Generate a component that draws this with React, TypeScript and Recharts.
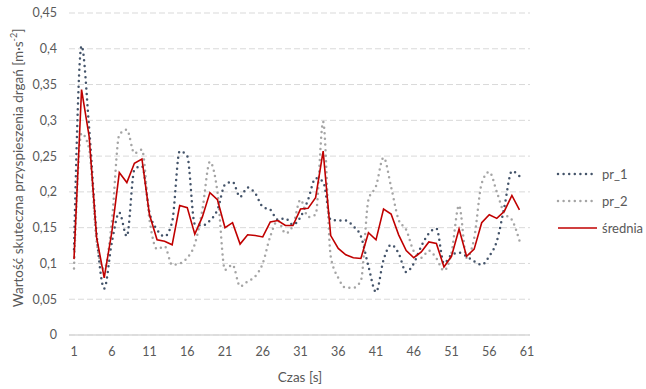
import React from 'react'
import { LineChart, Line, XAxis, YAxis, CartesianGrid } from 'recharts'

const seconds = [
  1, 2, 3, 4, 5, 6, 7, 8, 9, 10, 11, 12, 13, 14, 15, 16, 17, 18, 19, 20,
  21, 22, 23, 24, 25, 26, 27, 28, 29, 30, 31, 32, 33, 34, 35, 36, 37, 38, 39, 40,
  41, 42, 43, 44, 45, 46, 47, 48, 49, 50, 51, 52, 53, 54, 55, 56, 57, 58, 59, 60,
]

const pr1 = [
  0.12, 0.404, 0.29, 0.14, 0.065, 0.129, 0.171, 0.138, 0.231, 0.236,
  0.171, 0.147, 0.138, 0.158, 0.257, 0.25, 0.155, 0.153, 0.16, 0.175,
  0.21, 0.214, 0.193, 0.206, 0.198, 0.179, 0.175, 0.161, 0.163, 0.154,
  0.165, 0.189, 0.219, 0.214, 0.161, 0.16, 0.16, 0.152, 0.138, 0.096,
  0.06, 0.105, 0.126, 0.114, 0.088, 0.1, 0.124, 0.142, 0.149, 0.1,
  0.112, 0.115, 0.11, 0.103, 0.098, 0.11, 0.131, 0.179, 0.229, 0.222,
]

const pr2 = [
  0.093, 0.282, 0.26, 0.13, 0.092, 0.157, 0.28, 0.287, 0.254, 0.259,
  0.161, 0.12, 0.124, 0.098, 0.1, 0.108, 0.127, 0.175, 0.242, 0.2,
  0.091, 0.098, 0.068, 0.075, 0.082, 0.1, 0.138, 0.16, 0.142, 0.153,
  0.189, 0.165, 0.168, 0.298, 0.11, 0.08, 0.066, 0.066, 0.076, 0.189,
  0.208, 0.248, 0.207, 0.161, 0.147, 0.117, 0.108, 0.118, 0.107, 0.09,
  0.115, 0.181, 0.108, 0.135, 0.212, 0.228, 0.2, 0.17, 0.161, 0.132,
]

const srednia = [
  0.106, 0.343, 0.278, 0.136, 0.08, 0.143, 0.227, 0.213, 0.24, 0.246,
  0.168, 0.133, 0.131, 0.126, 0.181, 0.178, 0.141, 0.165, 0.199, 0.189,
  0.15, 0.157, 0.127, 0.14, 0.139, 0.137, 0.158, 0.16, 0.153, 0.153,
  0.176, 0.177, 0.192, 0.257, 0.139, 0.121, 0.112, 0.108, 0.107, 0.143,
  0.133, 0.176, 0.169, 0.14, 0.118, 0.108, 0.116, 0.13, 0.128, 0.095,
  0.11, 0.148, 0.11, 0.12, 0.157, 0.168, 0.163, 0.173, 0.195, 0.175,
]

const xTicks = [1, 6, 11, 16, 21, 26, 31, 36, 41, 46, 51, 56, 61]
const yTicks = [0, 0.05, 0.1, 0.15, 0.2, 0.25, 0.3, 0.35, 0.4, 0.45]

const data = seconds.map((t, i) => ({ t, pr1: pr1[i], pr2: pr2[i], srednia: srednia[i] }))

const FONT = 'Lato, "Liberation Sans", sans-serif'
const TEXT = '#595959'
const C_PR1 = '#44546A'
const C_PR2 = '#A5A5A5'
const C_AVG = '#C00000'

function LegendRow({ top, color, dotted, label }: { top: number; color: string; dotted: boolean; label: string }) {
  return (
    <div style={{ position: 'absolute', left: 555, top: top - 9, height: 18, display: 'flex', alignItems: 'center' }}>
      <svg width={44} height={18}>
        <line
          x1={3}
          y1={9}
          x2={42}
          y2={9}
          stroke={color}
          strokeWidth={dotted ? 2.5 : 1.6}
          strokeDasharray={dotted ? '0 5.6' : undefined}
          strokeLinecap={dotted ? 'round' : 'butt'}
        />
      </svg>
      <span style={{ fontSize: 13, color: TEXT, marginLeft: 3 }}>{label}</span>
    </div>
  )
}

export default function App() {
  return (
    <div style={{ position: 'absolute', left: 0, top: 0, width: 646, height: 389, background: '#fff', fontFamily: FONT }}>
      <LineChart width={646} height={389} data={data} margin={{ top: 13, right: 116, bottom: 24, left: 0 }}>
        <CartesianGrid vertical={false} stroke="#D9D9D9" strokeDasharray="6 3" />
        <XAxis
          dataKey="t"
          type="number"
          domain={[1, 61]}
          ticks={xTicks}
          interval={0}
          height={30}
          padding={{ left: 5, right: 3 }}
          axisLine={{ stroke: '#D9D9D9', strokeWidth: 1.5 }}
          tickLine={false}
          tickMargin={6}
          tick={{ fill: TEXT, fontSize: 12.5, fontFamily: FONT }}
        />
        <YAxis
          width={69}
          domain={[0, 0.45]}
          ticks={yTicks}
          interval={0}
          axisLine={false}
          tickLine={false}
          tickMargin={6}
          tick={{ fill: TEXT, fontSize: 12.5, fontFamily: FONT }}
          tickFormatter={(v: number) => String(v).replace('.', ',')}
        />
        <Line
          dataKey="pr1"
          type="monotone"
          stroke={C_PR1}
          strokeWidth={2.5}
          strokeDasharray="0 5.6"
          strokeLinecap="round"
          dot={false}
          activeDot={false}
          isAnimationActive={false}
        />
        <Line
          dataKey="pr2"
          type="monotone"
          stroke={C_PR2}
          strokeWidth={2.5}
          strokeDasharray="0 5.6"
          strokeLinecap="round"
          dot={false}
          activeDot={false}
          isAnimationActive={false}
        />
        <Line
          dataKey="srednia"
          type="linear"
          stroke={C_AVG}
          strokeWidth={1.6}
          dot={false}
          activeDot={false}
          isAnimationActive={false}
        />
      </LineChart>

      {/* axis titles */}
      <div
        style={{
          position: 'absolute',
          left: 17,
          top: 168,
          transform: 'translate(-50%, -50%) rotate(-90deg)',
          whiteSpace: 'nowrap',
          fontSize: 13.5,
          color: TEXT,
        }}
      >
        Wartość skuteczna przyspieszenia drgań [m·s<sup style={{ fontSize: 9 }}>-2</sup>]
      </div>
      <div
        style={{
          position: 'absolute',
          left: 300,
          top: 377,
          transform: 'translate(-50%, -50%)',
          whiteSpace: 'nowrap',
          fontSize: 13.5,
          color: TEXT,
        }}
      >
        Czas [s]
      </div>

      <LegendRow top={174} color={C_PR1} dotted label="pr_1" />
      <LegendRow top={201} color={C_PR2} dotted label="pr_2" />
      <LegendRow top={228} color={C_AVG} dotted={false} label="średnia" />
    </div>
  )
}
